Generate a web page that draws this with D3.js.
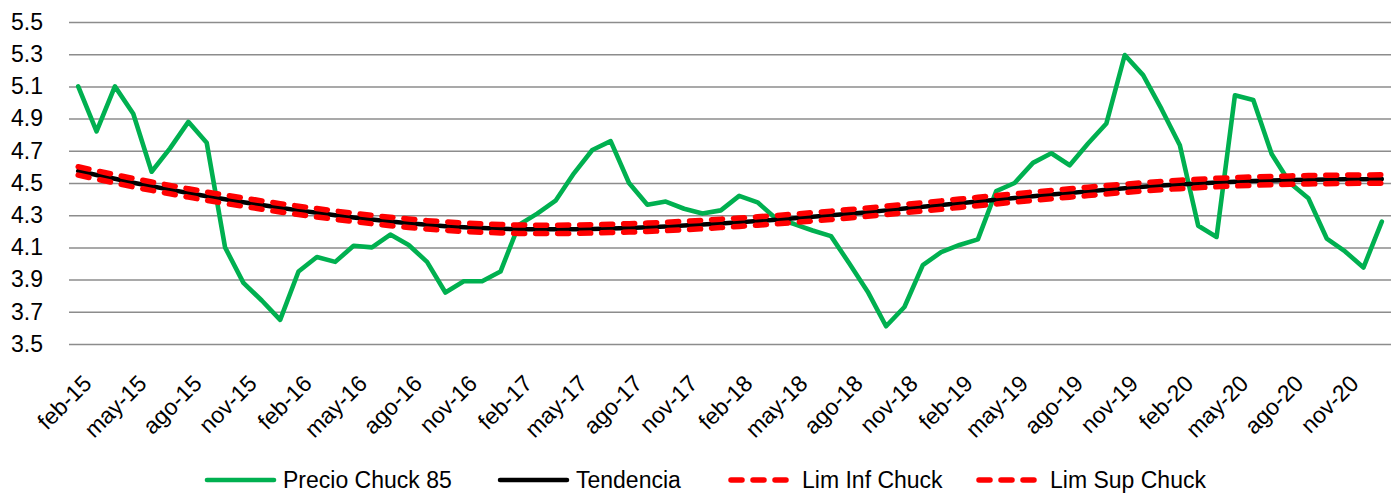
<!DOCTYPE html>
<html>
<head>
<meta charset="utf-8">
<script src="https://cdn.jsdelivr.net/npm/d3@7"></script>
<style>
  html, body { margin: 0; padding: 0; background: #fff; }
  svg text { font-family: "Liberation Sans", Arial, sans-serif; fill: #000; }
</style>
</head>
<body>
<svg id="chart" width="1396" height="494"></svg>
<script>
const categories = [
  "feb-15","mar-15","abr-15","may-15","jun-15","jul-15","ago-15","sep-15","oct-15","nov-15","dic-15","ene-16",
  "feb-16","mar-16","abr-16","may-16","jun-16","jul-16","ago-16","sep-16","oct-16","nov-16","dic-16","ene-17",
  "feb-17","mar-17","abr-17","may-17","jun-17","jul-17","ago-17","sep-17","oct-17","nov-17","dic-17","ene-18",
  "feb-18","mar-18","abr-18","may-18","jun-18","jul-18","ago-18","sep-18","oct-18","nov-18","dic-18","ene-19",
  "feb-19","mar-19","abr-19","may-19","jun-19","jul-19","ago-19","sep-19","oct-19","nov-19","dic-19","ene-20",
  "feb-20","mar-20","abr-20","may-20","jun-20","jul-20","ago-20","sep-20","oct-20","nov-20","dic-20","ene-21"
];
const tickLabels = [
  "feb-15","may-15","ago-15","nov-15","feb-16","may-16","ago-16","nov-16","feb-17","may-17","ago-17","nov-17",
  "feb-18","may-18","ago-18","nov-18","feb-19","may-19","ago-19","nov-19","feb-20","may-20","ago-20","nov-20"
];
const yTicks = [3.5, 3.7, 3.9, 4.1, 4.3, 4.5, 4.7, 4.9, 5.1, 5.3, 5.5];

const precio = [
  5.10,4.82,5.10,4.93,4.57,4.715,4.88,4.75,4.10,3.88,3.77,3.65,
  3.95,4.04,4.01,4.11,4.10,4.18,4.115,4.01,3.82,3.89,3.89,3.95,
  4.24,4.31,4.39,4.56,4.705,4.76,4.50,4.365,4.385,4.34,4.31,4.33,
  4.42,4.38,4.28,4.245,4.205,4.17,4.00,3.825,3.61,3.73,3.99,4.07,
  4.115,4.15,4.45,4.50,4.625,4.685,4.61,4.745,4.87,5.295,5.17,4.96,
  4.735,4.235,4.165,5.045,5.015,4.68,4.50,4.405,4.155,4.075,3.975,4.26
];
const tendencia = [
  4.575,4.550,4.526,4.502,4.480,4.459,4.438,4.418,4.399,4.381,4.363,4.346,
  4.330,4.315,4.300,4.286,4.273,4.261,4.250,4.240,4.232,4.225,4.220,4.216,
  4.213,4.212,4.212,4.213,4.215,4.218,4.221,4.225,4.230,4.236,4.242,4.249,
  4.256,4.264,4.272,4.281,4.290,4.299,4.309,4.319,4.330,4.341,4.352,4.363,
  4.374,4.385,4.396,4.407,4.418,4.428,4.438,4.448,4.458,4.467,4.476,4.484,
  4.491,4.497,4.503,4.508,4.512,4.515,4.518,4.520,4.522,4.523,4.524,4.525
];
const limInf = [
  4.549,4.524,4.500,4.476,4.454,4.433,4.412,4.392,4.373,4.355,4.337,4.320,
  4.304,4.289,4.274,4.260,4.247,4.235,4.224,4.214,4.206,4.199,4.194,4.190,
  4.187,4.186,4.186,4.187,4.189,4.192,4.195,4.199,4.204,4.210,4.216,4.223,
  4.230,4.238,4.246,4.255,4.264,4.273,4.283,4.293,4.304,4.315,4.326,4.337,
  4.348,4.359,4.370,4.381,4.392,4.402,4.412,4.422,4.432,4.441,4.450,4.458,
  4.465,4.471,4.477,4.482,4.486,4.489,4.492,4.494,4.496,4.497,4.498,4.499
];
const limSup = [
  4.601,4.576,4.552,4.528,4.506,4.485,4.464,4.444,4.425,4.407,4.389,4.372,
  4.356,4.341,4.326,4.312,4.299,4.287,4.276,4.266,4.258,4.251,4.246,4.242,
  4.239,4.238,4.238,4.239,4.241,4.244,4.247,4.251,4.256,4.262,4.268,4.275,
  4.282,4.290,4.298,4.307,4.316,4.325,4.335,4.345,4.356,4.367,4.378,4.389,
  4.400,4.411,4.422,4.433,4.444,4.454,4.464,4.474,4.484,4.493,4.502,4.510,
  4.517,4.523,4.529,4.534,4.538,4.541,4.544,4.546,4.548,4.549,4.550,4.551
];

const seriesNames = ["Precio Chuck 85", "Tendencia", "Lim Inf Chuck", "Lim Sup Chuck"];
const seriesColors = ["#00B050", "#000000", "#FF0000", "#FF0000"];

const svg = d3.select("#chart");
const plot = { left: 69, right: 1391, top: 22, bottom: 344 };
const fontSize = 23;

const x = d3.scaleBand().domain(categories).range([plot.left, plot.right]).paddingInner(0).paddingOuter(0);
const cx = c => x(c) + x.bandwidth() / 2;
const y = d3.scaleLinear().domain([3.5, 5.5]).range([plot.bottom, plot.top]);

// gridlines + y labels
const yAxis = d3.axisLeft(y).tickValues(yTicks).tickSize(-(plot.right - plot.left)).tickPadding(26)
  .tickFormat(d3.format(".1f"));
const gy = svg.append("g").attr("transform", `translate(${plot.left},0)`).call(yAxis);
gy.select(".domain").remove();
gy.selectAll(".tick line").attr("stroke", "#8c8c8c").attr("stroke-width", 1.5);
gy.selectAll(".tick text").attr("font-size", fontSize).attr("fill", "#000")
  .attr("font-family", "Liberation Sans, Arial, sans-serif");

// x axis labels
const xAxis = d3.axisBottom(x).tickValues(tickLabels).tickSize(0).tickPadding(0);
const gx = svg.append("g").attr("transform", `translate(0,${plot.bottom})`).call(xAxis);
gx.select(".domain").remove();
gx.selectAll(".tick text")
  .attr("font-size", fontSize).attr("fill", "#000")
  .attr("font-family", "Liberation Sans, Arial, sans-serif")
  .attr("text-anchor", "end")
  .attr("x", 0).attr("y", 0).attr("dy", "0.36em")
  .attr("transform", "translate(9,35) rotate(-45)");

// lines
const allSeries = [precio, tendencia, limInf, limSup];
const line = d3.line().x((d, i) => cx(categories[i])).y(d => y(d));
const styles = [
  { w: 4.6, dash: null },
  { w: 4.5, dash: null },
  { w: 5.5, dash: "11,11" },
  { w: 5.5, dash: "11,11" }
];
allSeries.forEach((s, k) => {
  const p = svg.append("path").datum(s)
    .attr("d", line)
    .attr("fill", "none")
    .attr("stroke", seriesColors[k])
    .attr("stroke-width", styles[k].w)
    .attr("stroke-linejoin", "round")
    .attr("stroke-linecap", "round");
  if (styles[k].dash) p.attr("stroke-dasharray", styles[k].dash);
});

// legend
const legendX = [205, 498, 729, 977];
const legendY = 480;
const lg = svg.append("g");
seriesNames.forEach((name, k) => {
  const g = lg.append("g").attr("transform", `translate(${legendX[k]},${legendY})`);
  const l = g.append("line").attr("x1", 2).attr("x2", 69).attr("y1", 0).attr("y2", 0)
    .attr("stroke", seriesColors[k]).attr("stroke-width", styles[k].w)
    .attr("stroke-linecap", "round");
  if (styles[k].dash) l.attr("x2", 60).attr("stroke-dasharray", "11,11");
  g.append("text").attr("x", k >= 2 ? 73 : 78).attr("y", 0).attr("dy", "0.36em")
    .attr("font-size", fontSize).text(name);
});
</script>
</body>
</html>
